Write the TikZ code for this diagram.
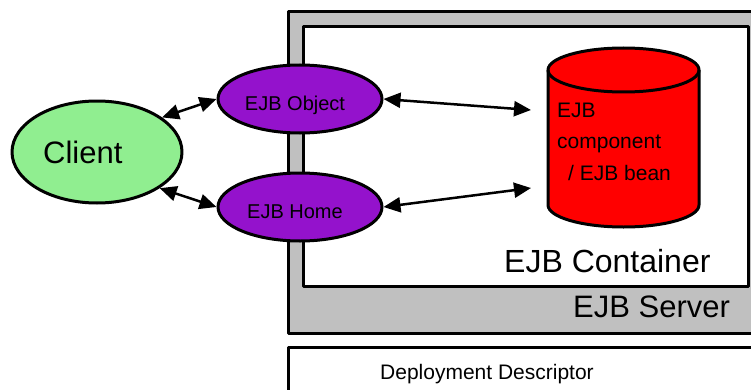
\documentclass[tikz,border=0pt]{standalone}
\usepackage{fontspec}
\setmainfont{Liberation Sans}
\usetikzlibrary{arrows.meta,shapes.geometric}
\definecolor{servergray}{RGB}{192,192,192}
\definecolor{clientgreen}{RGB}{144,238,144}
\definecolor{stubpurple}{RGB}{148,18,204}
\newcommand{\fsz}[1]{\fontsize{#1}{1.2\dimexpr#1pt\relax}\selectfont}
\begin{document}
\begin{tikzpicture}[x=1pt, y=1pt, line join=round,
		stub/.style={ellipse, draw, line width=3pt, fill=stubpurple, minimum width=164pt, minimum height=68pt, inner sep=0pt,
			text height=22pt, text depth=0pt, execute at begin node={\hspace*{-10pt}}, font=\fsz{20}},
		link/.style={{Triangle[length=17pt,width=15pt]}-{Triangle[length=17pt,width=15pt]}, line width=2.5pt}]
	\useasboundingbox (0,0) rectangle (751,389);
	\clip (0,0) rectangle (751,389);
	% Server und Container
	\draw[line width=3pt, fill=servergray] (288,377) rectangle (790,56);
	\draw[line width=3pt, fill=white] (303,362) rectangle (748,103);
	\draw[line width=3pt, fill=white] (288,42) rectangle (790,-30);
	\node[anchor=base west, inner sep=0pt, font=\fsz{32}] (contlabel) at (504,117) {EJB Container};
	\node[anchor=base west, inner sep=0pt, font=\fsz{31}] (servlabel) at (573,72) {EJB Server};
	\node[anchor=base west, inner sep=0pt, font=\fsz{21}] (ddlabel) at (380,10) {Deployment Descriptor};
	% Bean als Zylinder
	\draw[line width=3pt, fill=red] (548,319) -- (548,184)
		arc[start angle=180, end angle=360, x radius=75.5, y radius=22] -- (699,319)
		arc[start angle=0, end angle=180, x radius=75.5, y radius=22] -- cycle;
	\draw[line width=3pt] (548,319) arc[start angle=180, end angle=360, x radius=75.5, y radius=22];
	\foreach \txt/\xx/\yy in {EJB/557/272, component/557/241, {/ EJB bean}/568/209}
		\node[anchor=base west, inner sep=0pt, font=\fsz{21}] (bean\yy) at (\xx,\yy) {\txt};
	\coordinate (beanA) at (531,279);
	\coordinate (beanB) at (531,201);
	% Client und Stubs
	\node[ellipse, draw, line width=3pt, fill=clientgreen, minimum width=170pt, minimum height=102pt] (client) at (97,237) {};
	\node[anchor=base west, inner sep=0pt, font=\fsz{31}] (clientlabel) at (43,226) {Client};
	\node[stub] (object) at (300,290) {EJB Object};
	\node[stub] (home) at (300,182) {EJB Home};
	% Pfeile
	\draw[link] (client.28) -- (object.west);
	\draw[link] (client.-30) -- (home.west);
	\draw[link] (object.east) -- (beanA);
	\draw[link] (home.east) -- (beanB);
\end{tikzpicture}
\end{document}
